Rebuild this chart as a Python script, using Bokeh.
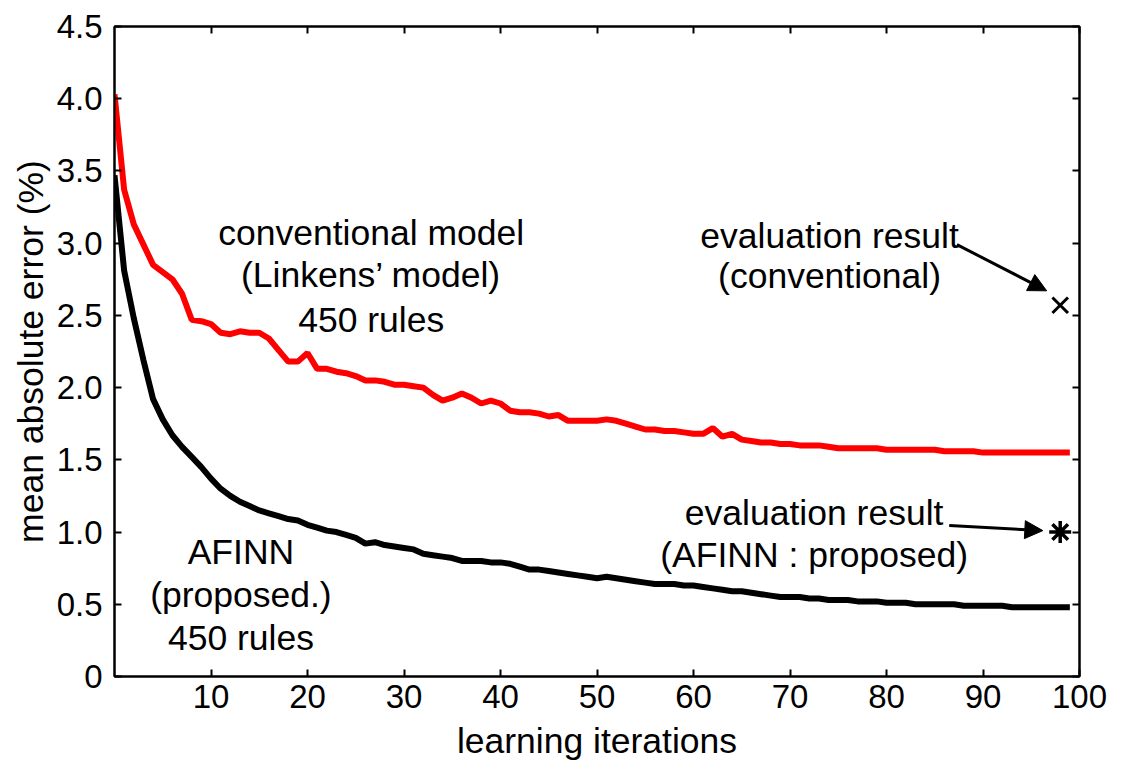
from bokeh.plotting import figure
from bokeh.models import (LinearAxis, FixedTicker, CustomJSTickFormatter, Range1d,
                          Arrow, NormalHead, ColumnDataSource)
from bokeh.core.properties import value
from bokeh.embed import file_html
from bokeh.resources import INLINE

# ---------------- data ----------------
iterations = list(range(0, 100))

conventional_mae = [
    4.03, 3.37, 3.13, 2.99, 2.85, 2.80, 2.75, 2.65, 2.47, 2.46,
    2.44, 2.38, 2.37, 2.39, 2.38, 2.38, 2.34, 2.26, 2.18, 2.18,
    2.24, 2.13, 2.13, 2.11, 2.10, 2.08, 2.05, 2.05, 2.04, 2.02,
    2.02, 2.01, 2.00, 1.95, 1.91, 1.93, 1.96, 1.93, 1.89, 1.91,
    1.89, 1.84, 1.83, 1.83, 1.82, 1.80, 1.81, 1.77, 1.77, 1.77,
    1.77, 1.78, 1.77, 1.75, 1.73, 1.71, 1.71, 1.70, 1.70, 1.69,
    1.68, 1.68, 1.72, 1.66, 1.68, 1.64, 1.63, 1.62, 1.62, 1.61,
    1.61, 1.60, 1.60, 1.60, 1.59, 1.58, 1.58, 1.58, 1.58, 1.58,
    1.57, 1.57, 1.57, 1.57, 1.57, 1.57, 1.56, 1.56, 1.56, 1.56,
    1.55, 1.55, 1.55, 1.55, 1.55, 1.55, 1.55, 1.55, 1.55, 1.55,
]

afinn_mae = [
    3.47, 2.81, 2.48, 2.19, 1.92, 1.78, 1.67, 1.59, 1.52, 1.45,
    1.37, 1.30, 1.25, 1.21, 1.18, 1.15, 1.13, 1.11, 1.09, 1.08,
    1.05, 1.03, 1.01, 1.00, 0.98, 0.96, 0.92, 0.93, 0.91, 0.90,
    0.89, 0.88, 0.85, 0.84, 0.83, 0.82, 0.80, 0.80, 0.80, 0.79,
    0.79, 0.78, 0.76, 0.74, 0.74, 0.73, 0.72, 0.71, 0.70, 0.69,
    0.68, 0.69, 0.68, 0.67, 0.66, 0.65, 0.64, 0.64, 0.64, 0.63,
    0.63, 0.62, 0.61, 0.60, 0.59, 0.59, 0.58, 0.57, 0.56, 0.55,
    0.55, 0.55, 0.54, 0.54, 0.53, 0.53, 0.53, 0.52, 0.52, 0.52,
    0.51, 0.51, 0.51, 0.50, 0.50, 0.50, 0.50, 0.50, 0.49, 0.49,
    0.49, 0.49, 0.49, 0.48, 0.48, 0.48, 0.48, 0.48, 0.48, 0.48,
]

eval_iteration = [98]
eval_conventional = [2.57]
eval_afinn = [1.00]

x_ticks = [10, 20, 30, 40, 50, 60, 70, 80, 90, 100]
y_ticks = [0, 0.5, 1.0, 1.5, 2.0, 2.5, 3.0, 3.5, 4.0, 4.5]

label_conventional = ["conventional model", "(Linkens\u2019 model)", "450 rules"]
label_afinn = ["AFINN", "(proposed.)", "450 rules"]
label_eval_conv = ["evaluation result", "(conventional)"]
label_eval_afinn = ["evaluation result", "(AFINN : proposed)"]

# ---------------- figure ----------------
FONT = "Liberation Sans"
TICK_FS = "33px"
TXT_FS = "35.5px"

p = figure(width=1129, height=765, output_backend="svg", toolbar_location=None,
           x_range=Range1d(0, 100), y_range=Range1d(0, 4.5),
           x_axis_location=None, y_axis_location=None,
           min_border_left=114, min_border_right=50,
           min_border_top=26, min_border_bottom=89)
p.grid.visible = False
p.outline_line_color = "black"
p.outline_line_width = 2
p.background_fill_color = "white"
p.border_fill_color = "white"


def make_axis(ticks, labels=True, fmt=None):
    ax = LinearAxis(ticker=FixedTicker(ticks=ticks))
    ax.major_tick_in = 7
    ax.major_tick_out = 0
    ax.minor_tick_line_color = None
    ax.major_tick_line_width = 2
    ax.axis_line_width = 2
    ax.axis_line_color = "black"
    ax.major_tick_line_color = "black"
    if labels:
        ax.major_label_text_font = FONT
        ax.major_label_text_font_size = TICK_FS
        ax.major_label_text_color = "black"
        ax.axis_label_text_color = "black"
        if fmt is not None:
            ax.formatter = fmt
    else:
        ax.major_label_text_font_size = "0px"
        ax.major_label_text_color = None
    return ax


yfmt = CustomJSTickFormatter(code="return tick == 0 ? '0' : tick.toFixed(1);")
left = make_axis(y_ticks, True, yfmt)
left.axis_label = "mean absolute error (%)"
left.axis_label_text_font = FONT
left.axis_label_text_font_size = TXT_FS
left.axis_label_text_font_style = "normal"
left.axis_label_standoff = 3
left.major_label_standoff = 12
p.add_layout(left, "left")

bottom = make_axis(x_ticks, True)
bottom.axis_label = "learning iterations"
bottom.axis_label_text_font = FONT
bottom.axis_label_text_font_size = TXT_FS
bottom.axis_label_text_font_style = "normal"
bottom.axis_label_standoff = 10
bottom.major_label_standoff = 8
p.add_layout(bottom, "below")

p.add_layout(make_axis(y_ticks, False), "right")
p.add_layout(make_axis(x_ticks, False), "above")

# curves
src = ColumnDataSource(dict(x=iterations, conv=conventional_mae, afinn=afinn_mae))
p.line("x", "conv", source=src, line_color="#ff0000", line_width=6)
p.line("x", "afinn", source=src, line_color="black", line_width=6)

# evaluation results
p.scatter(eval_iteration, eval_conventional, marker="x", size=22,
          line_color="black", line_width=3)
p.scatter(eval_iteration, eval_afinn, marker="asterisk", size=22,
          line_color="black", line_width=3.5)

# annotations (layout positions)
def put_lines(lines, xc, ys):
    p.text(x=[xc] * len(lines), y=ys, text=lines, text_font=value(FONT),
           text_font_size=TXT_FS, text_align="center", text_baseline="middle",
           text_color="black")

put_lines(label_conventional, 26.6, [3.07, 2.78, 2.47])
put_lines(label_afinn, 13.1, [0.86, 0.565, 0.265])
put_lines(label_eval_conv, 74.1, [3.05, 2.77])
put_lines(label_eval_afinn, 72.5, [1.135, 0.84])

p.add_layout(Arrow(end=NormalHead(size=18, fill_color="black", line_color="black"),
                   x_start=87.3, y_start=2.99, x_end=96.6, y_end=2.67,
                   line_width=3, line_color="black"))
p.add_layout(Arrow(end=NormalHead(size=18, fill_color="black", line_color="black"),
                   x_start=86.5, y_start=1.045, x_end=96.2, y_end=1.01,
                   line_width=3, line_color="black"))

open("out.html", "w").write(file_html(p, INLINE))
